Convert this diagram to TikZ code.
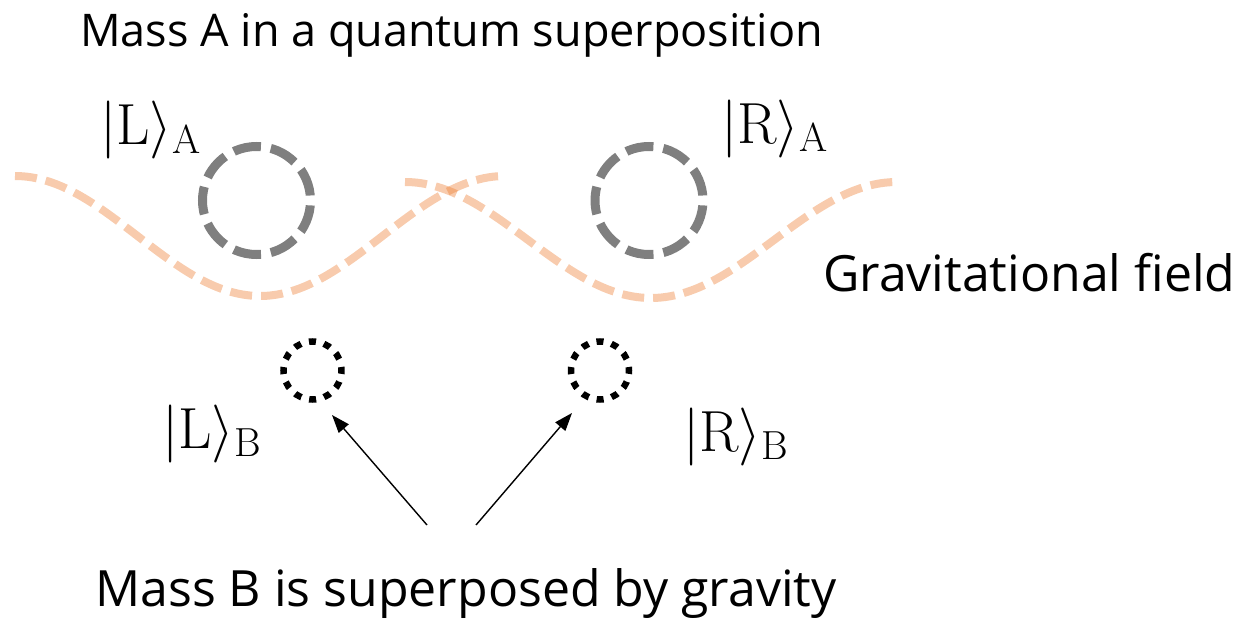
\RequirePackage{fix-cm}
\documentclass[tikz,border=0pt]{standalone}
\usepackage{fontspec}
\setsansfont{Open Sans}
\usetikzlibrary{arrows.meta}
\definecolor{fieldorange}{HTML}{ED7D31}
\definecolor{massgray}{HTML}{7F7F7F}
\begin{document}
\begin{tikzpicture}[x=1pt,y=-1pt,
  txt/.style={font=\sffamily\fontsize{50}{54}\selectfont, inner sep=0pt, anchor=base west},
  ket/.style={font=\fontsize{58}{60}\selectfont, inner sep=0pt, anchor=base west},
  field/.style={draw=fieldorange, draw opacity=0.4, line width=8pt, dash pattern=on 22pt off 9pt},
  massA/.style={circle, draw=massgray, line width=9pt, minimum size=108pt, inner sep=0pt,
    dash pattern=on 27.7pt off 10pt, dash phase=32.7pt},
  massB/.style={circle, draw=black, line width=6.5pt, minimum size=58pt, inner sep=0pt,
    dash pattern=on 7pt off 8.18pt, dash phase=3.5pt},
  arr/.style={-{Triangle[length=18pt,width=13pt]}, line width=1.4pt}
]
\useasboundingbox (0,0) rectangle (1237,623);

% gravitational field waves
\draw[field] plot[domain=15:505, samples=120, smooth] (\x, {236 - 60*cos(0.734694*(\x-15))});
\draw[field] plot[domain=405:897, samples=120, smooth] (\x, {240 - 58*cos(0.731707*(\x-405))});

% mass A
\node[massA] (LA) at (256.5,200.5) {};
\node[massA] (RA) at (649,200.5) {};

% mass B
\node[massB] (LB) at (312.5,370.5) {};
\node[massB] (RB) at (600,370.5) {};

% texts
\node[txt, font=\sffamily\fontsize{45}{50}\selectfont] (title) at (80,47) {Mass A in a quantum superposition};
\node[txt] (grav) at (823,291) {Gravitational field};
\node[txt] (massb) at (95,606) {Mass B is superposed by gravity};

\node[ket] (kLA) at (100,145) {$|\mathrm{L}\rangle_{\mathrm{A}}$};
\node[ket] (kRA) at (721,143) {$|\mathrm{R}\rangle_{\mathrm{A}}$};
\node[ket] (kLB) at (162,448) {$|\mathrm{L}\rangle_{\mathrm{B}}$};
\node[ket] (kRB) at (683,451) {$|\mathrm{R}\rangle_{\mathrm{B}}$};

% arrows
\coordinate (ls) at (427,525);
\coordinate (lt) at (332,415);
\coordinate (rs) at (476,525);
\coordinate (rt) at (572,413);
\draw[arr] (ls) -- (lt);
\draw[arr] (rs) -- (rt);
\end{tikzpicture}
\end{document}
